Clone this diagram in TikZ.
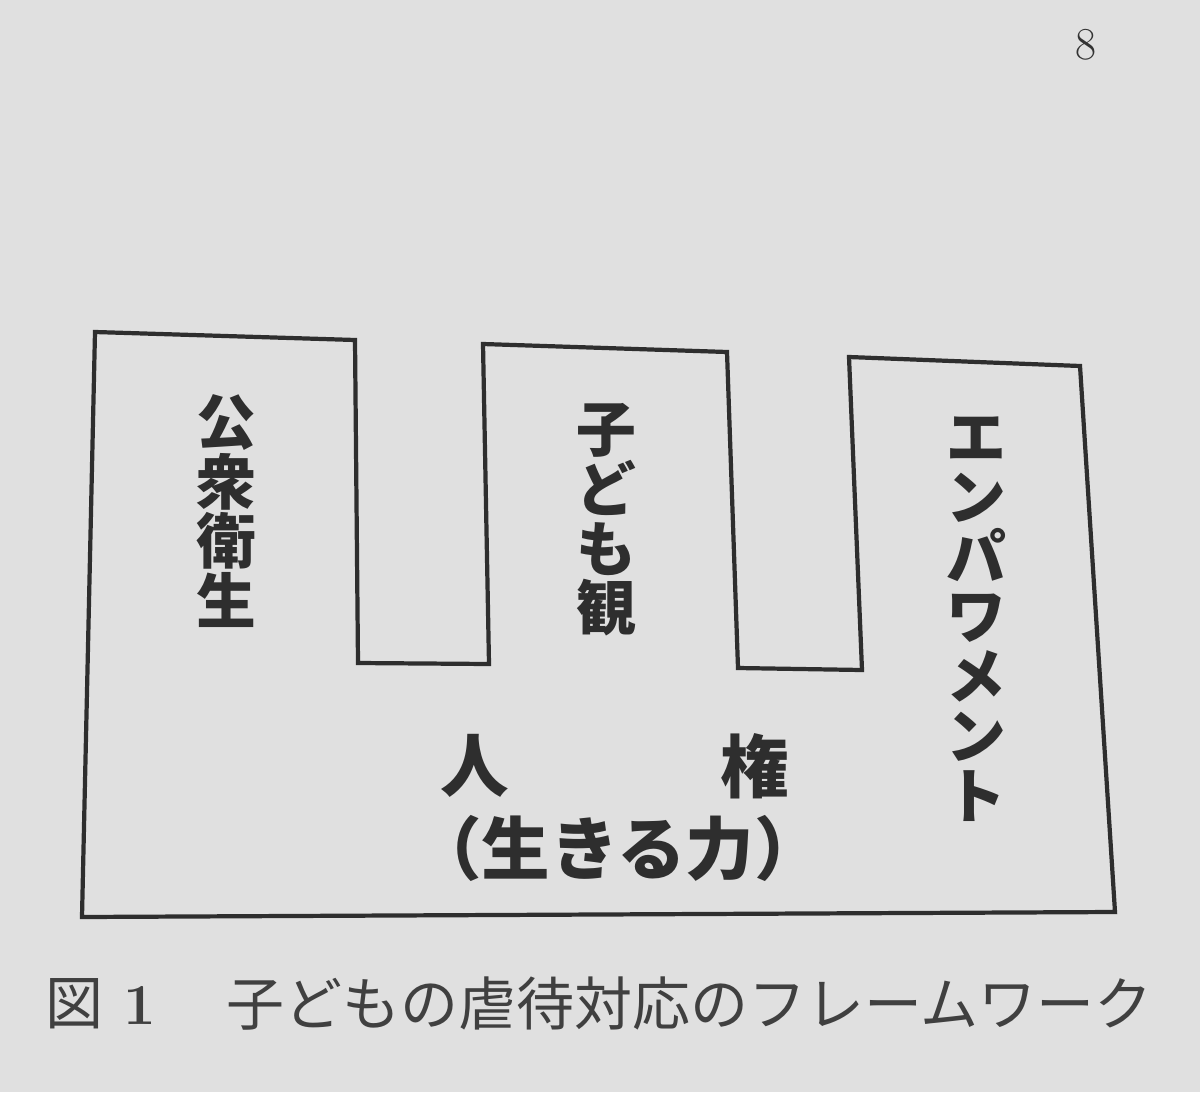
\documentclass[tikz,border=0pt]{standalone}
\usepackage{fontspec}
\newfontfamily\cjk{Noto Sans CJK JP}
\usetikzlibrary{positioning}
\begin{document}
\begin{tikzpicture}[x=0.02cm, y=-0.02cm,
    frame/.style={line width=2.4pt, draw=black!82, line join=miter},
    pillar/.style={font=\cjk\bfseries\fontsize{34}{34}\selectfont, text=black!82, align=center, inner sep=0pt},
    base/.style={font=\cjk\bfseries\fontsize{39}{39}\selectfont, text=black!82, inner sep=0pt},
    caption/.style={font=\cjk\fontsize{33}{33}\selectfont, text=black!75, inner sep=0pt}]
  \fill [black!12] (0,0) rectangle (1200,1092);
  \useasboundingbox (0,0) rectangle (1200,1092);

  \draw [frame] (95,332) -- (355,340) -- (358,663) -- (489,664) -- (483,344)
    -- (727,352) -- (738,668) -- (862,670) -- (849,357) -- (1080,366)
    -- (1115,912) -- (82,917) -- cycle;

  \node [pillar] (health) at (226,511) {公\\衆\\衛\\生};
  \node [pillar] (childview) at (606,520) {子\\ど\\も\\観};
  \node [pillar] (empower) at (976,619) {エ\\ン\\パ\\ワ\\メ\\ン\\ト};

  \node [base] (rightsl) at (475,766) {人};
  \node [base] (rightsr) at (755,766) {権};
  \node [base] (living) at (618,848) {（生きる力）};

  \node [caption, anchor=west] (fignum) at (45,1004) {図\hspace{0.35em}\rmfamily\bfseries 1};
  \node [caption, anchor=west] (figtitle) at (226,1004) {子どもの虐待対応のフレームワーク};

  \node [font=\fontsize{26}{26}\selectfont, text=black!80] (page) at (1086,45) {8};
\end{tikzpicture}
\end{document}
